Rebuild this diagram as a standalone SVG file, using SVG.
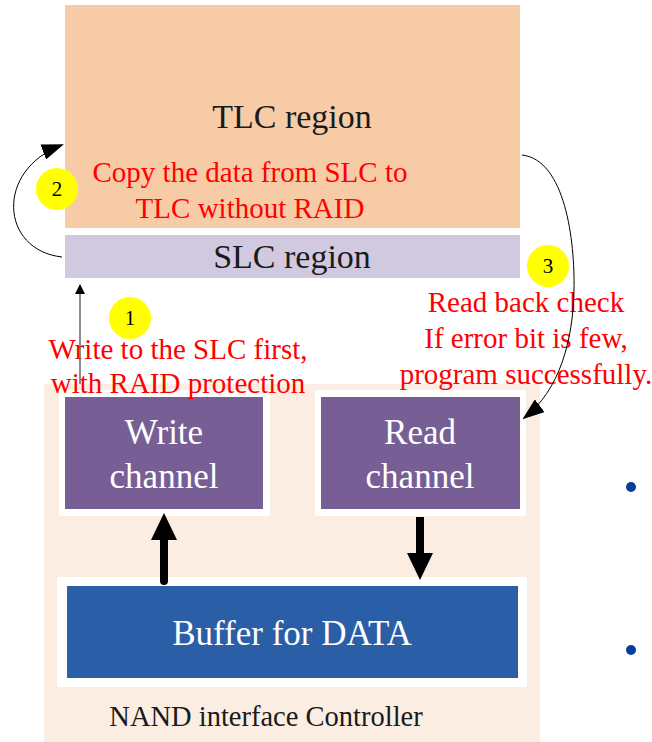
<svg xmlns="http://www.w3.org/2000/svg" width="652" height="742" viewBox="0 0 652 742" font-family="'Liberation Serif', 'Times New Roman', 'DejaVu Serif', serif">
<style>
.red{fill:#FF0000;font-size:29px;text-anchor:middle}
.wt{fill:#FFFFFF;font-size:35px;text-anchor:middle}
.num{fill:#000;font-size:21px;text-anchor:middle}
.dark{fill:#1a1a1a;font-size:34px;text-anchor:middle}
.badge{fill:#FFFF00}
</style>
<defs>
<marker id="ah" markerWidth="10" markerHeight="10" refX="9" refY="5" orient="auto" markerUnits="userSpaceOnUse" viewBox="0 0 10 10">
<path d="M0,0 L10,5 L0,10 z" fill="#000"/>
</marker>
<marker id="ahs" markerWidth="22" markerHeight="16" refX="20" refY="8" orient="auto" markerUnits="userSpaceOnUse" viewBox="0 0 22 16">
<path d="M0,0 L22,8 L0,16 z" fill="#000"/>
</marker>
</defs>
<rect width="652" height="742" fill="#FFFFFF"/>
<g id="tlc">
<rect x="65" y="5" width="455" height="223" fill="#F8CBA7"/>
<text class="dark" x="292" y="128">TLC region</text>
</g>
<g id="slc">
<rect x="65" y="235" width="455" height="43" fill="#D1C9DF"/>
<text class="dark" x="292" y="268">SLC region</text>
</g>
<g id="controller">
<rect x="44" y="384" width="496" height="358" fill="#FCEDE3"/>
<text x="266" y="726" font-size="28.5" text-anchor="middle" fill="#1a1a1a">NAND interface Controller</text>
</g>
<g id="write-channel">
<rect x="59" y="390" width="211" height="126" fill="#FFFFFF"/>
<rect x="65" y="397" width="198" height="112" fill="#775F96"/>
<text class="wt" x="164" y="444">Write</text>
<text class="wt" x="164" y="488">channel</text>
</g>
<g id="read-channel">
<rect x="315" y="390" width="211" height="126" fill="#FFFFFF"/>
<rect x="321" y="397" width="199" height="112" fill="#775F96"/>
<text class="wt" x="420" y="444">Read</text>
<text class="wt" x="420" y="488">channel</text>
</g>
<g id="buffer">
<rect x="57" y="577" width="470" height="110" fill="#FFFFFF"/>
<rect x="67" y="586" width="451" height="92" fill="#2A5EA6"/>
<text class="wt" x="292" y="645">Buffer for DATA</text>
</g>
<g id="badge1">
<circle class="badge" cx="130" cy="318" r="21"/>
<text class="num" x="130" y="325">1</text>
</g>
<g id="badge2">
<circle class="badge" cx="57" cy="189" r="21"/>
<text class="num" x="57" y="196">2</text>
</g>
<g id="badge3">
<circle class="badge" cx="548" cy="266" r="21"/>
<text class="num" x="548" y="273">3</text>
</g>
<g id="labels">
<text class="red" x="250" y="182">Copy the data from SLC to</text>
<text class="red" x="250" y="218">TLC without RAID</text>
<text class="red" x="178" y="359">Write to the SLC first,</text>
<text class="red" x="178" y="393">with RAID protection</text>
<text class="red" x="526" y="312">Read back check</text>
<text class="red" x="526" y="348">If error bit is few,</text>
<text class="red" x="526" y="384">program successfully.</text>
</g>
<g id="connectors" fill="none">
<path d="M80,384 L80,285" stroke="#666" stroke-width="1.5" marker-end="url(#ah)"/>
<path d="M62,257 C0,250 -5,170 62,145" stroke="#000" stroke-width="1" marker-end="url(#ahs)"/>
<path d="M522,155 C565,160 575,240 574,290 C573,340 560,390 524,418" stroke="#000" stroke-width="1" marker-end="url(#ahs)"/>
<line x1="164" y1="581" x2="164" y2="535" stroke="#000" stroke-width="8" stroke-linecap="round"/>
<path d="M164,513 L177,540 L151,540 z" fill="#000"/>
<line x1="420" y1="517" x2="420" y2="556" stroke="#000" stroke-width="8"/>
<path d="M420,580 L433,553 L407,553 z" fill="#000"/>
</g>
<g id="bullets" fill="#0A3C9A">
<circle cx="631" cy="487" r="5"/>
<circle cx="631" cy="650" r="5"/>
</g>
</svg>
